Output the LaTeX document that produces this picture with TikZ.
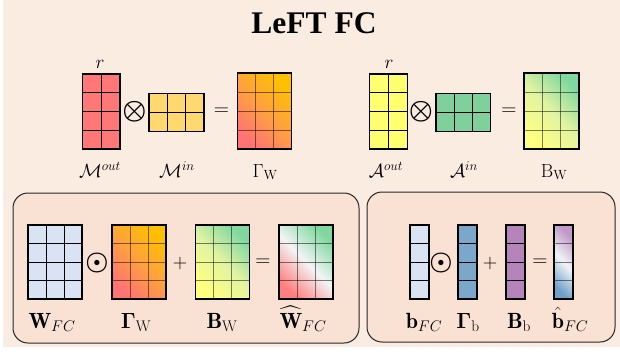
\RequirePackage{fix-cm}
\documentclass[tikz,border=0pt]{standalone}
\usepackage{fontspec}
\usepackage{amsmath,bm}
\usetikzlibrary{calc}
\newfontfamily\titlefont{Liberation Serif}
\definecolor{bgpeach}{HTML}{FBECE2}
\definecolor{panelfill}{HTML}{F9E2D4}
\definecolor{mred}{HTML}{FF7777}
\definecolor{myel}{HTML}{FFD86F}
\definecolor{ayel}{HTML}{FFFF70}
\definecolor{agrn}{HTML}{7FD09A}
\definecolor{wblue}{HTML}{DAE3F3}
\definecolor{gblue}{HTML}{7BA7CB}
\definecolor{bpurp}{HTML}{B584BB}
\definecolor{gorange}{HTML}{FFC000}
\definecolor{gred}{HTML}{FF7373}
\definecolor{gmid}{HTML}{FFA040}
\definecolor{byel}{HTML}{FFFF80}
\definecolor{bgrn}{HTML}{80D8A0}
\definecolor{bmid}{HTML}{E2F4A2}
\definecolor{hred}{HTML}{FF7F7F}
\definecolor{hwhite}{HTML}{F2F4F6}
\definecolor{hblue}{HTML}{6FA0C8}
\definecolor{hpurp}{HTML}{C098C8}
\tikzset{
  mbox/.style={draw=black, line width=1.4pt, inner sep=0pt, outer sep=0pt},
  gl/.style={draw=black, line width=0.9pt},
  glg/.style={draw=black, line width=0.9pt, draw opacity=0.5},
  lab/.style={font=\fontsize{19}{22}\selectfont, inner sep=0pt, anchor=base},
  labb/.style={font=\fontsize{22}{26}\selectfont, inner sep=0pt, anchor=base},
  opn/.style={font=\fontsize{#1}{#1}\selectfont, inner sep=0pt},
  panel/.style={draw=black!85, line width=1pt, rounded corners=15pt, fill=panelfill},
  gshadeG/.style={left color=gred, right color=gorange, middle color=gmid, shading angle=135},
  gshadeB/.style={left color=byel, right color=bgrn, middle color=bmid, shading angle=135},
  gshadeW/.style={left color=hred, right color=bgrn, middle color=hwhite, shading angle=135},
  gshadeb/.style={left color=hblue, right color=hpurp, middle color=hwhite, shading angle=135},
}
% name, x, y, cols, rows, cellw, cellh, node style, grid style
\newcommand\mtx[9]{%
  \node[mbox, minimum width={#4*#6pt}, minimum height={#5*#7pt}, #8] (#1) at (#2,#3) {};
  \ifnum#4>1
    \pgfmathtruncatemacro\mtxc{#4-1}%
    \foreach \k in {1,...,\mtxc}{%
      \draw[#9] ($(#1.south west)!\k/#4!(#1.south east)$) -- ($(#1.north west)!\k/#4!(#1.north east)$);}
  \fi
  \ifnum#5>1
    \pgfmathtruncatemacro\mtxr{#5-1}%
    \foreach \k in {1,...,\mtxr}{%
      \draw[#9] ($(#1.south west)!\k/#5!(#1.north west)$) -- ($(#1.south east)!\k/#5!(#1.north east)$);}
  \fi
  \draw[line width=1.4pt] (#1.south west) rectangle (#1.north east);
}
\begin{document}
\begin{tikzpicture}[x=1pt, y=-1pt]
\useasboundingbox (0,0) rectangle (620,351);
\fill[white] (0,0) rectangle (620,351);
\fill[bgpeach] (3,0) rectangle (620,347);

\node[font=\titlefont\bfseries\fontsize{31.5}{34}\selectfont, inner sep=0pt, anchor=base] (title) at (314,33) {LeFT FC};

% top left
\node[lab] (r1) at (100,68) {$r$};
\mtx{mo}{101.3}{111.5}{2}{4}{18.6}{18.75}{fill=mred}{gl}
\node[opn=27] (o1) at (134.5,112) {$\bm{\otimes}$};
\mtx{mi}{176.5}{112.2}{3}{2}{18.3}{19}{fill=myel}{gl}
\node[opn=21] (e1) at (221.5,112) {$=$};
\mtx{gt}{264.5}{111}{3}{4}{18.1}{19}{gshadeG}{glg}
\node[lab] (lmo) at (100,177) {$\mathcal{M}^{out}$};
\node[lab] (lmi) at (177,177) {$\mathcal{M}^{in}$};
\node[lab] (lgt) at (265,177) {$\Gamma_{\mathrm{W}}$};

% top right
\node[lab] (r2) at (389,68) {$r$};
\mtx{ao}{388.3}{111.5}{2}{4}{19}{18.75}{fill=ayel}{gl}
\node[opn=27] (o2) at (421,112) {$\bm{\otimes}$};
\mtx{ai}{463.3}{112.2}{3}{2}{18.2}{19}{fill=agrn}{gl}
\node[opn=21] (e2) at (509,112) {$=$};
\mtx{bt}{551.5}{111}{3}{4}{18.3}{19}{gshadeB}{glg}
\node[lab] (lao) at (386,177) {$\mathcal{A}^{out}$};
\node[lab] (lai) at (464,177) {$\mathcal{A}^{in}$};
\node[lab] (lbt) at (554,177) {$\mathrm{B}_{\mathrm{W}}$};

% panels
\draw[panel] (13,193) rectangle (359,343);
\draw[panel] (367,192) rectangle (615,342);

% bottom left
\mtx{w}{55}{262}{3}{4}{18}{18.5}{fill=wblue}{gl}
\node[opn=26] (d1) at (97,263) {$\bm{\odot}$};
\mtx{g}{139}{262}{3}{4}{18}{18.5}{gshadeG}{glg}
\node[opn=20] (p1) at (180,263) {$+$};
\mtx{b}{222.5}{262}{3}{4}{18}{18.5}{gshadeB}{glg}
\node[opn=21] (e3) at (263,263) {$=$};
\mtx{wh}{306}{262}{3}{4}{18}{18.5}{gshadeW}{glg}
\node[labb] (lw) at (52,328) {$\mathbf{W}_{FC}$};
\node[labb] (lg) at (136,328) {$\bm{\Gamma}_{\mathrm{W}}$};
\node[labb] (lb) at (222,328) {$\mathbf{B}_{\mathrm{W}}$};
\node[labb] (lwh) at (303,328) {$\widehat{\mathbf{W}}_{FC}$};

% bottom right
\mtx{bf}{419.5}{262}{1}{4}{19}{18.5}{fill=wblue}{gl}
\node[opn=26] (d2) at (441,263) {$\bm{\odot}$};
\mtx{gb}{467.5}{262}{1}{4}{19}{18.5}{fill=gblue}{gl}
\node[opn=20] (p2) at (490,263) {$+$};
\mtx{bb}{515.5}{262}{1}{4}{19}{18.5}{fill=bpurp}{gl}
\node[opn=21] (e4) at (540,263) {$=$};
\mtx{bh}{563.5}{262}{1}{4}{19}{18.5}{gshadeb}{glg}
\node[labb] (lbf) at (424,328) {$\mathbf{b}_{FC}$};
\node[labb] (lgb) at (468,328) {$\bm{\Gamma}_{\mathrm{b}}$};
\node[labb] (lbb) at (519,328) {$\mathbf{B}_{\mathrm{b}}$};
\node[labb] (lbh) at (570,328) {$\hat{\mathbf{b}}_{FC}$};
\end{tikzpicture}
\end{document}
